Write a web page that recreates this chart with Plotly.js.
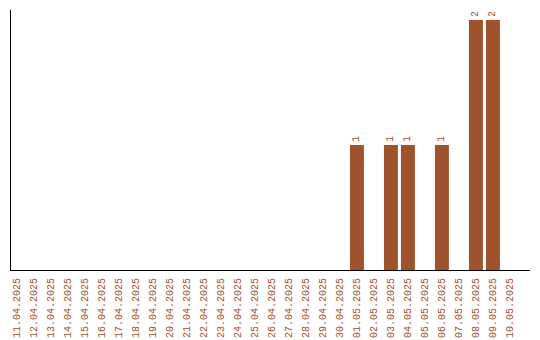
<!DOCTYPE html>
<html>
<head>
<meta charset="utf-8">
<script src="https://cdn.plot.ly/plotly-3.0.1.min.js"></script>
<style>
  html, body { margin: 0; padding: 0; background: #fff; }
  #chart { width: 540px; height: 340px; }
</style>
</head>
<body>
<div id="chart"></div>
<script>
// Daily counts, 11.04.2025 – 10.05.2025
const dates = [
  "11.04.2025", "12.04.2025", "13.04.2025", "14.04.2025", "15.04.2025",
  "16.04.2025", "17.04.2025", "18.04.2025", "19.04.2025", "20.04.2025",
  "21.04.2025", "22.04.2025", "23.04.2025", "24.04.2025", "25.04.2025",
  "26.04.2025", "27.04.2025", "28.04.2025", "29.04.2025", "30.04.2025",
  "01.05.2025", "02.05.2025", "03.05.2025", "04.05.2025", "05.05.2025",
  "06.05.2025", "07.05.2025", "08.05.2025", "09.05.2025", "10.05.2025"
];
const counts = [
  0, 0, 0, 0, 0, 0, 0, 0, 0, 0,
  0, 0, 0, 0, 0, 0, 0, 0, 0, 0,
  1, 0, 1, 1, 0, 1, 0, 2, 2, 0
];

const barColor = "#a0522d";
const monoFont = "Liberation Mono, DejaVu Sans Mono, monospace";

const trace = {
  type: "bar",
  x: dates,
  y: counts,
  marker: { color: barColor },
  text: counts.map(v => v > 0 ? String(v) : ""),
  textposition: "outside",
  textangle: -90,
  textfont: { family: monoFont, size: 10, color: barColor },
  cliponaxis: false,
  hoverinfo: "none"
};

const layout = {
  width: 540,
  height: 340,
  margin: { l: 11, r: 10, t: 10, b: 70 },
  paper_bgcolor: "#fff",
  plot_bgcolor: "#fff",
  showlegend: false,
  bargap: 0.18,
  font: { family: monoFont, size: 10, color: barColor },
  xaxis: {
    type: "category",
    range: [-0.35, 30.18],
    showline: true,
    linecolor: "#000",
    linewidth: 1,
    showgrid: false,
    zeroline: false,
    ticks: "",
    tickangle: -90,
    ticklabelstandoff: 3,
    tickfont: { family: monoFont, size: 10, color: barColor },
    automargin: false
  },
  yaxis: {
    range: [0, 2.08],
    showline: true,
    linecolor: "#000",
    linewidth: 1,
    showgrid: false,
    zeroline: false,
    showticklabels: false,
    ticks: "",
    automargin: false
  }
};

Plotly.newPlot("chart", [trace], layout, { staticPlot: true, displayModeBar: false });
</script>
</body>
</html>
